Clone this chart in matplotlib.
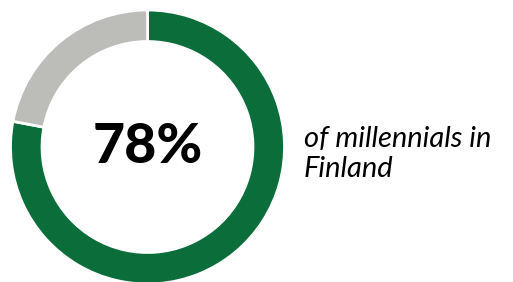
import matplotlib

matplotlib.use("Agg")
import matplotlib.pyplot as plt

# data
labels = ["millennials in Finland", "other"]
shares = [78, 22]
colors = ["#0a6d3a", "#bcbcb8"]
centerText = "78%"
caption = "of millennials in\nFinland"

fig = plt.figure(figsize=(5.13, 2.82), dpi=100)
ax = fig.add_axes([10.5 / 513, -2 / 282, 274 / 513, 274 / 282])
ax.pie(shares, colors=colors, startangle=90, counterclock=False,
       wedgeprops=dict(width=0.23, edgecolor="white", linewidth=2))
ax.set_xlim(-1, 1)
ax.set_ylim(-1, 1)
ax.set_aspect("equal")
ax.axis("off")

ax.text(0, 0, centerText, ha="center", va="center", fontsize=40,
        fontweight="black", family="Lato")
fig.text(304 / 513, 1 - 154 / 282, caption, ha="left", va="center",
         fontsize=21, style="italic", family="Lato", linespacing=1.2)

fig.savefig("out.png", dpi=100)
